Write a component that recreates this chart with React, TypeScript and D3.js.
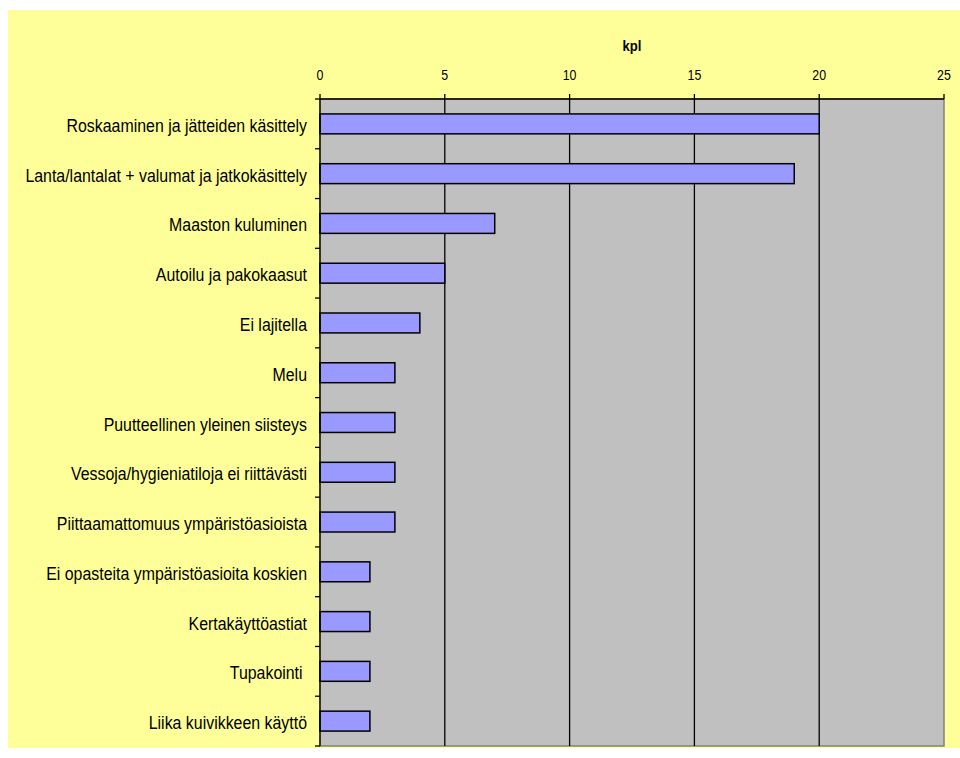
import React from "react";
import * as d3 from "d3";

const categories = [
  "Roskaaminen ja jätteiden käsittely",
  "Lanta/lantalat + valumat ja jatkokäsittely",
  "Maaston kuluminen",
  "Autoilu ja pakokaasut",
  "Ei lajitella",
  "Melu",
  "Puutteellinen yleinen siisteys",
  "Vessoja/hygieniatiloja ei riittävästi",
  "Piittaamattomuus ympäristöasioista",
  "Ei opasteita ympäristöasioita koskien",
  "Kertakäyttöastiat",
  "Tupakointi ",
  "Liika kuivikkeen käyttö",
];
const values = [20, 19, 7, 5, 4, 3, 3, 3, 3, 2, 2, 2, 2];
const xTicks = [0, 5, 10, 15, 20, 25];
const axisTitle = "kpl";

const W = 960;
const H = 758;
// plot area in page coords
const PL = 320, PR = 944, PT = 99, PB = 746;

export default function App() {
  const x = d3.scaleLinear().domain([0, 25]).range([PL, PR]);
  const y = d3.scaleBand<number>().domain(d3.range(categories.length)).range([PT, PB]).paddingInner(0).paddingOuter(0);
  const bw = y.bandwidth();
  const barH = bw * 0.4;
  const font = "'Liberation Sans', Arial, sans-serif";
  const sx = 0.86;
  return (
    <svg width={W} height={H} style={{ display: "block", position: "absolute", left: 0, top: 0 }}>
      <rect x={8} y={10} width={W - 8} height={738} fill="#FFFF99" />
      <rect x={PL} y={PT} width={PR - PL} height={PB - PT} fill="#C0C0C0" stroke="#808080" strokeWidth={1.5} />
      {xTicks.slice(1, -1).map((t) => (
        <line key={t} x1={x(t)} x2={x(t)} y1={PT} y2={PB} stroke="#000" strokeWidth={1.3} />
      ))}
      {values.map((v, i) => (
        <rect key={i} x={x(0)} y={(y(i) as number) + bw / 2 - barH / 2} width={x(v) - x(0)} height={barH}
          fill="#9999FF" stroke="#000" strokeWidth={1.5} />
      ))}
      <line x1={PL} x2={PR} y1={PT} y2={PT} stroke="#000" strokeWidth={1.3} />
      <line x1={PL} x2={PL} y1={PT} y2={PB} stroke="#000" strokeWidth={1.3} />
      {xTicks.map((t) => (
        <g key={t}>
          <line x1={x(t)} x2={x(t)} y1={PT - 5} y2={PT} stroke="#000" strokeWidth={1.3} />
          <text transform={`translate(${x(t)},${PT - 18.7}) scale(0.8,1)`} textAnchor="middle"
            fontFamily={font} fontSize={15.5}>{t}</text>
        </g>
      ))}
      {d3.range(categories.length + 1).map((i) => {
        const yy = i < categories.length ? (y(i) as number) : PB;
        return <line key={i} x1={PL - 5} x2={PL} y1={yy} y2={yy} stroke="#000" strokeWidth={1.3} />;
      })}
      {categories.map((c, i) => (
        <text key={i} transform={`translate(${PL - 13},${(y(i) as number) + bw / 2 + 8}) scale(${sx},1)`}
          textAnchor="end" fontFamily={font} fontSize={18.5} style={{ whiteSpace: "pre" }}>{c}</text>
      ))}
      <text transform={`translate(${(PL + PR) / 2},50.7) scale(0.88,1)`} textAnchor="middle"
        fontFamily={font} fontSize={14.8} fontWeight="bold">{axisTitle}</text>
    </svg>
  );
}
